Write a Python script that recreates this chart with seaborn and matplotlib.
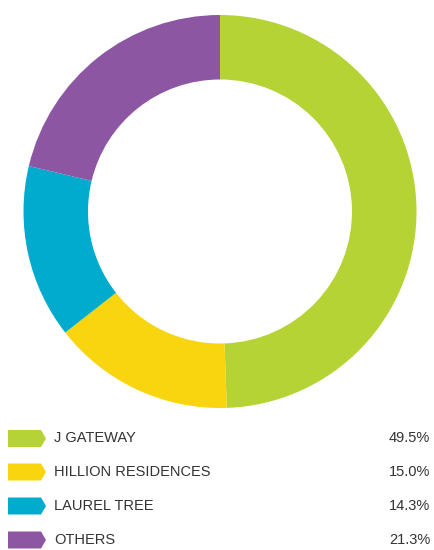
import matplotlib
matplotlib.use("Agg")
import matplotlib.pyplot as plt
from matplotlib.patches import Polygon
import seaborn as sns

categories = ["J GATEWAY", "HILLION RESIDENCES", "LAUREL TREE", "OTHERS"]
values = [49.5, 15.0, 14.3, 21.3]
labels = ["49.5%", "15.0%", "14.3%", "21.3%"]
colors = ["#b5d334", "#f9d50f", "#00abce", "#8d56a2"]

sns.set_theme(style="white")
plt.rcParams["font.family"] = ["Liberation Sans", "DejaVu Sans"]

W, H = 434, 550
fig = plt.figure(figsize=(W / 100, H / 100), dpi=100)
ax = fig.add_axes([0, 0, 1, 1])
palette = sns.color_palette(colors)

cx, cy, R = 220, H - 211.5, 196.5
ax.pie(values, colors=palette, startangle=90, counterclock=False,
       center=(cx, cy), radius=R,
       wedgeprops=dict(width=R - 132, edgecolor="none", linewidth=0))

ax.set_xlim(0, W)
ax.set_ylim(0, H)
ax.set_aspect("equal", adjustable="box")
ax.axis("off")

row_y = [438.5, 472, 506, 540]
for i, (cat, lab, col) in enumerate(zip(categories, labels, palette)):
    y = H - row_y[i]
    h = 8.5
    poly = Polygon([(8, y - h), (41, y - h), (46, y), (41, y + h), (8, y + h)],
                   closed=True, facecolor=col, edgecolor="none")
    ax.add_patch(poly)
    ax.text(54, y, cat, ha="left", va="center", fontsize=10.5, color="#333333")
    ax.text(430, y, lab, ha="right", va="center", fontsize=10.5, color="#333333")

fig.savefig("out.png", dpi=100, facecolor="white")
